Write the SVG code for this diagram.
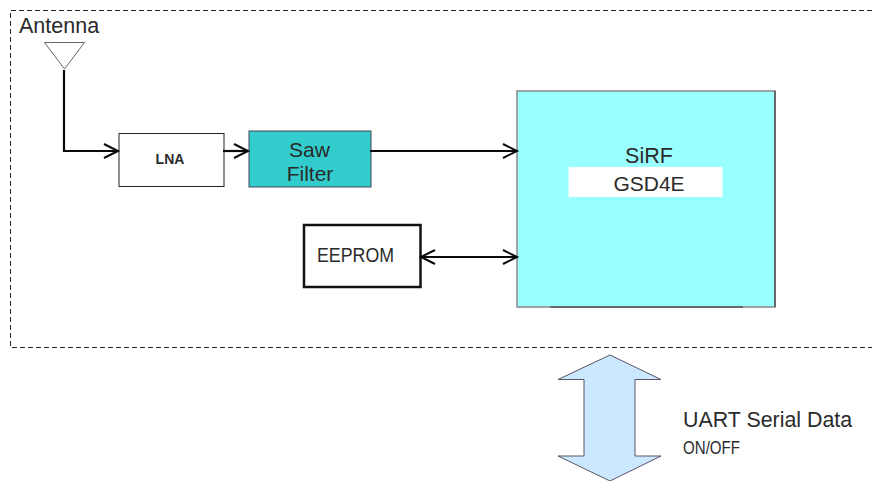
<svg xmlns="http://www.w3.org/2000/svg" width="872" height="481" viewBox="0 0 872 481">
<style>
text{font-family:"Liberation Sans",Arial,sans-serif;fill:#2a2a2a}
.w{fill:none;stroke:#0a0a0a;stroke-width:2.2}
</style>
<defs>
<marker id="a" markerWidth="18" markerHeight="18" refX="15" refY="8" orient="auto-start-reverse" markerUnits="userSpaceOnUse"><path d="M1 1L15 8L1 15" fill="none" stroke="#0a0a0a" stroke-width="2"/></marker>
</defs>
<rect width="872" height="481" fill="#fff"/>
<path d="M872 10.500H10.500V347.500H872" fill="none" stroke="#222" stroke-width="1" stroke-dasharray="5 3"/>
<g id="antenna"><path d="M44.500 42.500H84.500L64.500 69Z" fill="#fff" stroke="#666"/><text x="19" y="33" font-size="21.500">Antenna</text></g>
<g id="lna"><rect x="119" y="133.500" width="105" height="53" fill="#fff" stroke="#222"/><text x="170" y="164" font-size="14" font-weight="bold" text-anchor="middle">LNA</text></g>
<g id="saw"><rect x="249" y="131" width="122" height="56" fill="#33cccc" stroke="#445"/><text x="309.500" y="156.500" font-size="21" text-anchor="middle">Saw</text><text x="310" y="180.500" font-size="21" text-anchor="middle">Filter</text></g>
<g id="eeprom"><rect x="304" y="225" width="116.500" height="62" fill="#fff" stroke="#111" stroke-width="2.500"/><text x="317" y="262" font-size="20" textLength="77" lengthAdjust="spacingAndGlyphs">EEPROM</text></g>
<g id="sirf"><rect x="517" y="91" width="258" height="216" fill="#99ffff" stroke="#888" stroke-width="1.500"/><path d="M775 91V307M550 307H743" fill="none" stroke="#555" stroke-width="1.500"/><text x="649" y="162.500" font-size="21.500" text-anchor="middle">SiRF</text><rect x="568.500" y="167" width="154" height="30" fill="#fff"/><text x="649" y="190.500" font-size="21" fill="#111" text-anchor="middle">GSD4E</text></g>
<g id="connectors">
<path class="w" d="M64 70V151H118" marker-end="url(#a)"/>
<path class="w" d="M223 151H248" marker-end="url(#a)"/>
<path class="w" d="M370 151H517" marker-end="url(#a)"/>
<path class="w" d="M421 257H517" marker-start="url(#a)" marker-end="url(#a)"/>
</g>
<g id="bus"><path d="M610 355L661 379.500H635V456H661L610 481L558 456H584V379.500H558Z" fill="#cce8ff" stroke="#556"/></g>
<g id="uart"><text x="683" y="426.500" font-size="21.400">UART Serial Data</text><text x="683" y="454" font-size="19" textLength="57" lengthAdjust="spacingAndGlyphs">ON/OFF</text></g>
</svg>
